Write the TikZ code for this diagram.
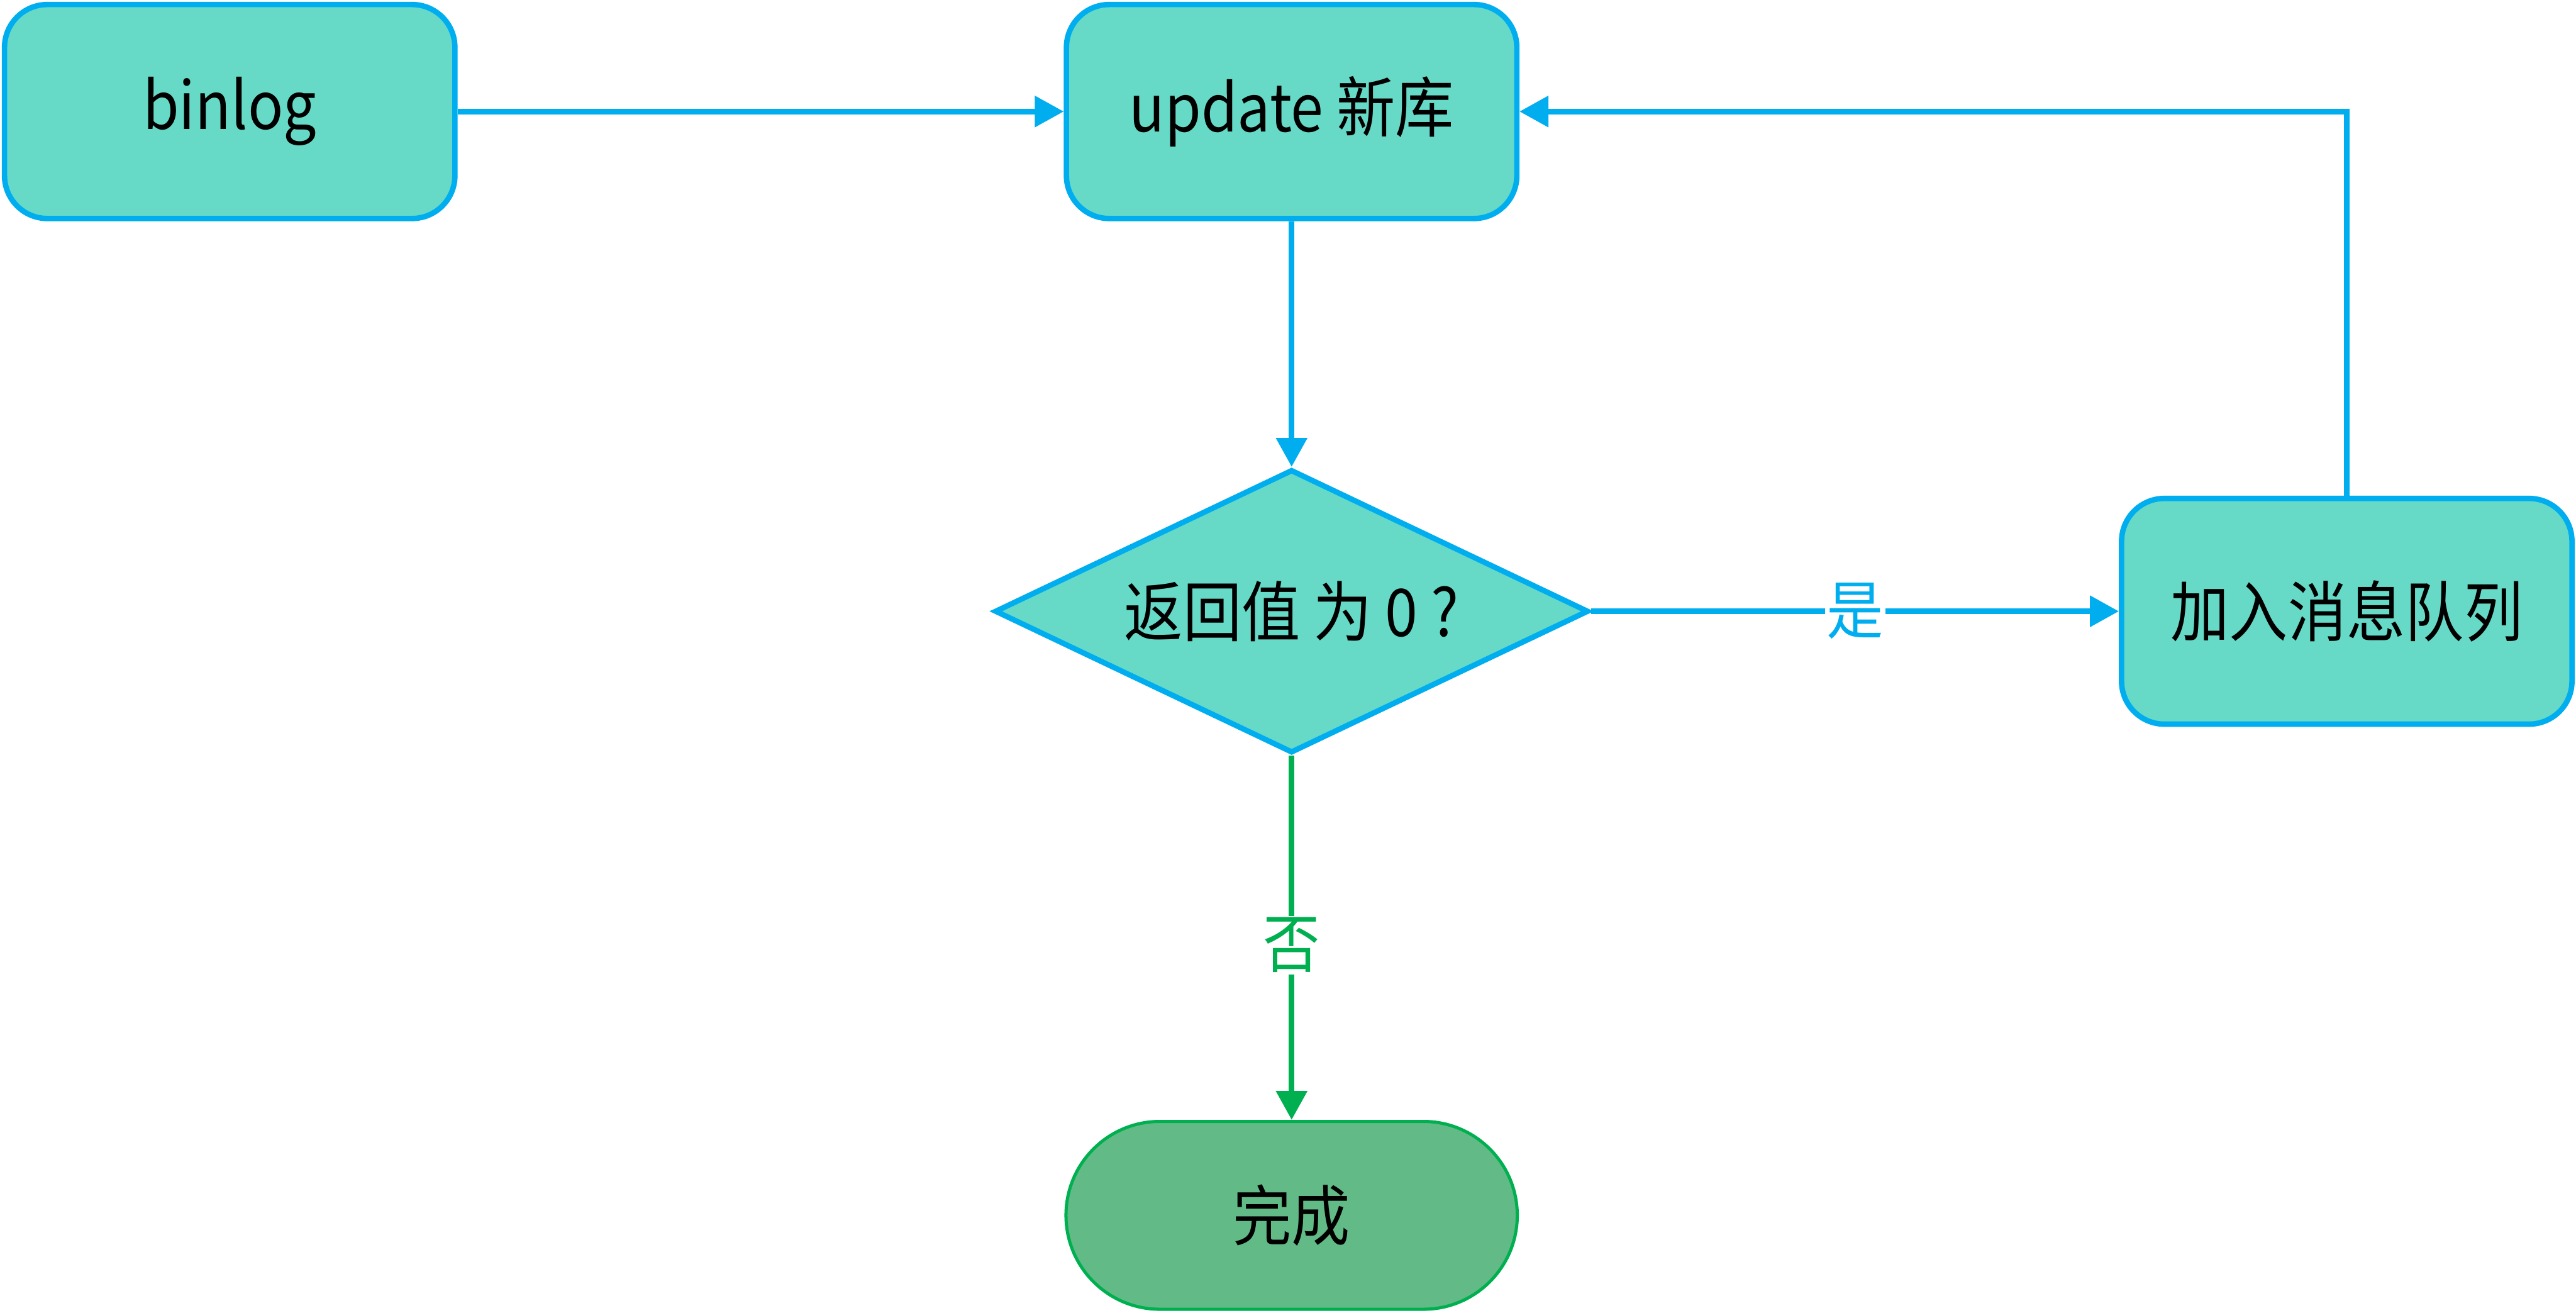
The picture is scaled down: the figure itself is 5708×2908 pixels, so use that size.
\documentclass[tikz,border=0pt]{standalone}
\usepackage{fontspec}
\usepackage{graphicx}
\setmainfont{Noto Sans CJK SC}
\usetikzlibrary{arrows.meta,shapes.geometric}
\definecolor{tealfill}{HTML}{66D9C7}
\definecolor{bluestroke}{HTML}{00AEEF}
\definecolor{greenstroke}{HTML}{00B050}
\definecolor{greenfill}{HTML}{62BB86}
\newcommand{\tallt}[1]{\scalebox{1}[1.12]{#1}}
\tikzset{
  boxnode/.style={draw=bluestroke, fill=tealfill, line width=12pt, rounded corners=95pt,
    minimum width=998pt, minimum height=474pt, inner sep=0pt,
    font=\fontsize{130}{150}\selectfont},
  decnode/.style={diamond, aspect=2.1, draw=bluestroke, fill=tealfill, line width=12pt,
    minimum width=1316pt, minimum height=628pt, inner sep=0pt,
    font=\fontsize{130}{150}\selectfont},
  endnode/.style={draw=greenstroke, fill=greenfill, line width=7pt, rounded corners=208pt,
    minimum width=1000pt, minimum height=416pt, inner sep=0pt,
    font=\fontsize{130}{150}\selectfont},
  blueconn/.style={draw=bluestroke, line width=12pt, -{Triangle[length=64pt,width=67pt]}},
  greenconn/.style={draw=greenstroke, line width=12pt, -{Triangle[length=64pt,width=67pt]}},
  lbl/.style={fill=white, inner sep=4pt, font=\fontsize{126}{150}\selectfont},
}
\begin{document}
\begin{tikzpicture}[x=1pt,y=-1pt]
\useasboundingbox (0,0) rectangle (5708,2908);
\node[boxnode] (binlog) at (509,247) {\tallt{binlog}};
\node[boxnode] (upd) at (2862,247) {\tallt{update 新库}};
\node[decnode] (dia) at (2862,1354) {\tallt{返回值 为 0 ?}};
\node[boxnode, minimum height=500pt] (queue) at (5200,1354) {\tallt{加入消息队列}};
\node[endnode] (done) at (2862,2692) {\tallt{完成}};
\draw[blueconn] (binlog) -- (upd);
\draw[blueconn] (upd) -- (dia.north);
\draw[blueconn] (dia.east) -- node[lbl, text=bluestroke] (yes) {\tallt{是}} (queue.west);
\draw[blueconn] (queue.north) |- (upd.east);
\draw[greenconn] (dia.south) -- node[lbl, text=greenstroke, pos=0.52] (no) {\tallt{否}} (done.north);
\end{tikzpicture}
\end{document}
